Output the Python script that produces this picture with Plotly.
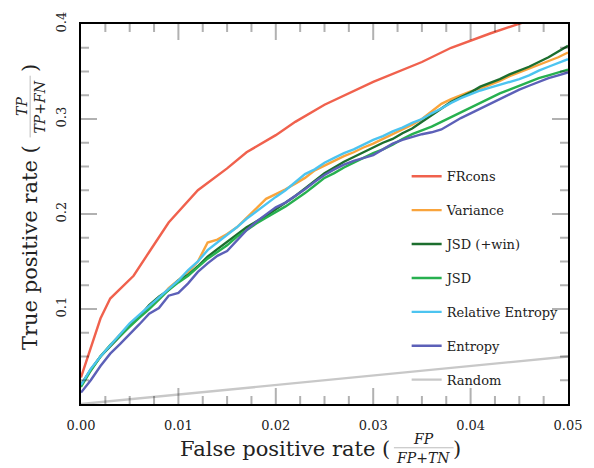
import plotly.graph_objects as go

# ---------------- data ----------------
fpr = [0.000, 0.001, 0.002, 0.003, 0.004, 0.005, 0.006, 0.007, 0.008, 0.009,
       0.010, 0.011, 0.012, 0.013, 0.014, 0.015, 0.016, 0.017, 0.018, 0.019,
       0.020, 0.021, 0.022, 0.023, 0.024, 0.025, 0.026, 0.027, 0.028, 0.029,
       0.030, 0.031, 0.032, 0.033, 0.034, 0.035, 0.036, 0.037, 0.038, 0.039,
       0.040, 0.041, 0.042, 0.043, 0.044, 0.045, 0.046, 0.047, 0.048, 0.049,
       0.050]

frcons_x = [0.000, 0.001, 0.002, 0.003, 0.0054, 0.007, 0.009, 0.012, 0.015, 0.017,
            0.020, 0.022, 0.025, 0.030, 0.035, 0.038, 0.042, 0.0455]
frcons_y = [0.028, 0.060, 0.090, 0.111, 0.135, 0.160, 0.191, 0.225, 0.248, 0.265,
            0.283, 0.297, 0.315, 0.339, 0.360, 0.375, 0.390, 0.402]

variance = [0.020, 0.036, 0.050, 0.062, 0.073, 0.083, 0.092, 0.102, 0.110, 0.122,
            0.130, 0.139, 0.150, 0.170, 0.173, 0.179, 0.186, 0.196, 0.205, 0.216,
            0.221, 0.226, 0.232, 0.238, 0.246, 0.251, 0.256, 0.261, 0.265, 0.270,
            0.274, 0.279, 0.284, 0.289, 0.294, 0.300, 0.308, 0.316, 0.321, 0.325,
            0.329, 0.332, 0.336, 0.340, 0.345, 0.349, 0.353, 0.357, 0.361, 0.365,
            0.370]

jsd_win = [0.020, 0.036, 0.050, 0.061, 0.072, 0.082, 0.092, 0.104, 0.113, 0.120,
           0.130, 0.136, 0.145, 0.155, 0.163, 0.171, 0.178, 0.186, 0.192, 0.198,
           0.205, 0.212, 0.219, 0.227, 0.235, 0.243, 0.249, 0.255, 0.260, 0.265,
           0.270, 0.275, 0.279, 0.285, 0.290, 0.297, 0.304, 0.311, 0.318, 0.323,
           0.328, 0.334, 0.338, 0.342, 0.347, 0.351, 0.355, 0.360, 0.365, 0.371,
           0.377]

jsd = [0.018, 0.035, 0.050, 0.062, 0.072, 0.082, 0.091, 0.100, 0.110, 0.120,
       0.128, 0.135, 0.144, 0.153, 0.160, 0.167, 0.176, 0.183, 0.190, 0.196,
       0.202, 0.208, 0.215, 0.222, 0.230, 0.238, 0.243, 0.249, 0.254, 0.259,
       0.264, 0.268, 0.273, 0.279, 0.284, 0.288, 0.292, 0.297, 0.302, 0.307,
       0.312, 0.317, 0.322, 0.327, 0.331, 0.335, 0.339, 0.343, 0.346, 0.349,
       0.352]

rel_entropy = [0.020, 0.037, 0.050, 0.062, 0.074, 0.085, 0.094, 0.103, 0.111, 0.121,
               0.130, 0.141, 0.150, 0.162, 0.170, 0.177, 0.186, 0.195, 0.203, 0.211,
               0.218, 0.225, 0.234, 0.242, 0.247, 0.254, 0.259, 0.264, 0.268, 0.273,
               0.278, 0.282, 0.287, 0.291, 0.296, 0.300, 0.306, 0.311, 0.317, 0.322,
               0.326, 0.330, 0.333, 0.336, 0.339, 0.342, 0.346, 0.351, 0.355, 0.359,
               0.363]

entropy = [0.012, 0.025, 0.040, 0.053, 0.063, 0.073, 0.084, 0.095, 0.101, 0.114,
           0.117, 0.127, 0.139, 0.148, 0.156, 0.161, 0.172, 0.183, 0.192, 0.200,
           0.207, 0.212, 0.219, 0.226, 0.234, 0.241, 0.247, 0.252, 0.256, 0.259,
           0.262, 0.268, 0.274, 0.278, 0.281, 0.284, 0.286, 0.289, 0.295, 0.301,
           0.306, 0.311, 0.316, 0.321, 0.326, 0.331, 0.335, 0.339, 0.343, 0.346,
           0.349]

random_x = [0.0, 0.05]
random_y = [0.0, 0.05]

x_ticks = [0.00, 0.01, 0.02, 0.03, 0.04, 0.05]
y_ticks = [0.1, 0.2, 0.3, 0.4]
x_minor_step = 0.0025
y_minor_step = 0.025

# ---------------- figure ----------------
FONT = "DejaVu Serif"
W, H = 594, 468
L, R, T, B = 81, 15, 22, 64
PW, PH = W - L - R, H - T - B
XMAX, YMAX = 0.05, 0.4


def px(xp):
    return (xp - L) / PW


def py(yp):
    return (H - B - yp) / PH


series = [
    ("FRcons", frcons_x, frcons_y, "#f0614d"),
    ("Variance", fpr, variance, "#f9a43c"),
    ("JSD (+win)", fpr, jsd_win, "#1c6e2e"),
    ("JSD", fpr, jsd, "#27b04f"),
    ("Relative Entropy", fpr, rel_entropy, "#4cc4f0"),
    ("Entropy", fpr, entropy, "#5c60b8"),
    ("Random", random_x, random_y, "#c8c8c8"),
]

fig = go.Figure()
for i, (name, xs, ys, col) in enumerate(series):
    fig.add_trace(go.Scatter(x=xs, y=ys, mode="lines", name=name,
                             legendgroup=f"g{i}",
                             line=dict(color=col, width=2.4)))

axis_common = dict(
    showgrid=False, zeroline=False, showline=True, linecolor="black",
    linewidth=2, mirror=True, ticks="",
    tickfont=dict(family=FONT, size=13, color="#222"),
)

fig.update_xaxes(range=[0, XMAX], tickmode="array", tickvals=x_ticks,
                 ticktext=[f"{v:.2f}" for v in x_ticks], ticklabelstandoff=8,
                 **axis_common)
fig.update_yaxes(range=[0, YMAX], tickmode="array", tickvals=y_ticks,
                 ticktext=[f"{v:.1f}" for v in y_ticks], ticklabelstandoff=8,
                 tickangle=-90, **axis_common)

shapes = []
tick_line = dict(color="black", width=2)


def x_tick(v, length):
    # bottom and top inward ticks at data x = v
    shapes.append(dict(type="line", xref="x", yref="y", x0=v, x1=v,
                       ysizemode="pixel", yanchor=0, y0=0, y1=length,
                       line=tick_line, layer="above"))
    shapes.append(dict(type="line", xref="x", yref="y", x0=v, x1=v,
                       ysizemode="pixel", yanchor=YMAX, y0=-length, y1=0,
                       line=tick_line, layer="above"))


def y_tick(v, length):
    # left and right inward ticks at data y = v
    shapes.append(dict(type="line", xref="x", yref="y", y0=v, y1=v,
                       xsizemode="pixel", xanchor=0, x0=0, x1=length,
                       line=tick_line, layer="above"))
    shapes.append(dict(type="line", xref="x", yref="y", y0=v, y1=v,
                       xsizemode="pixel", xanchor=XMAX, x0=-length, x1=0,
                       line=tick_line, layer="above"))


n_xminor = int(round(XMAX / x_minor_step))
for k in range(1, n_xminor):
    v = k * x_minor_step
    x_tick(v, 16 if k % 4 == 0 else 8)

n_yminor = int(round(YMAX / y_minor_step))
for k in range(1, n_yminor):
    v = k * y_minor_step
    y_tick(v, 16 if k % 4 == 0 else 8)

ann = []
tf = dict(family=FONT, size=21, color="#222")
ff = dict(family=FONT, size=14, color="#222")
# x-axis title
ann.append(dict(text="False positive rate (", x=px(399), y=py(449),
                xanchor="right", yanchor="middle", font=tf))
ann.append(dict(text="<i>FP</i>", x=px(431), y=py(439),
                xanchor="center", yanchor="middle", font=ff))
ann.append(dict(text="<i>FP</i>+<i>TN</i>", x=px(431), y=py(458),
                xanchor="center", yanchor="middle", font=ff))
ann.append(dict(text=")", x=px(466), y=py(449),
                xanchor="center", yanchor="middle", font=tf))
shapes.append(dict(type="line", xref="paper", yref="paper",
                   x0=px(401), x1=px(462), y0=py(448), y1=py(448),
                   line=dict(color="#222", width=1)))
# y-axis title
ann.append(dict(text="True positive rate (", x=px(29), y=py(247),
                xanchor="center", yanchor="middle", textangle=-90, font=tf))
ann.append(dict(text="<i>TP</i>", x=px(20), y=py(105),
                xanchor="center", yanchor="middle", textangle=-90, font=ff))
ann.append(dict(text="<i>TP</i>+<i>FN</i>", x=px(39), y=py(105),
                xanchor="center", yanchor="middle", textangle=-90, font=ff))
ann.append(dict(text=")", x=px(29), y=py(66),
                xanchor="center", yanchor="middle", textangle=-90, font=tf))
shapes.append(dict(type="line", xref="paper", yref="paper",
                   x0=px(29), x1=px(29), y0=py(74), y1=py(136),
                   line=dict(color="#222", width=1)))

for a in ann:
    a.update(xref="paper", yref="paper", showarrow=False)

fig.update_layout(
    template="simple_white",
    width=W, height=H,
    margin=dict(l=L, r=R, t=T, b=B),
    paper_bgcolor="white", plot_bgcolor="white",
    annotations=ann, shapes=shapes,
    showlegend=True,
    legend=dict(x=px(414), y=py(160), xanchor="left", yanchor="top",
                bgcolor="rgba(0,0,0,0)", borderwidth=0,
                font=dict(family=FONT, size=13, color="#222"),
                itemwidth=30, tracegroupgap=14, traceorder="grouped"),
)

fig.write_html("out.html")
